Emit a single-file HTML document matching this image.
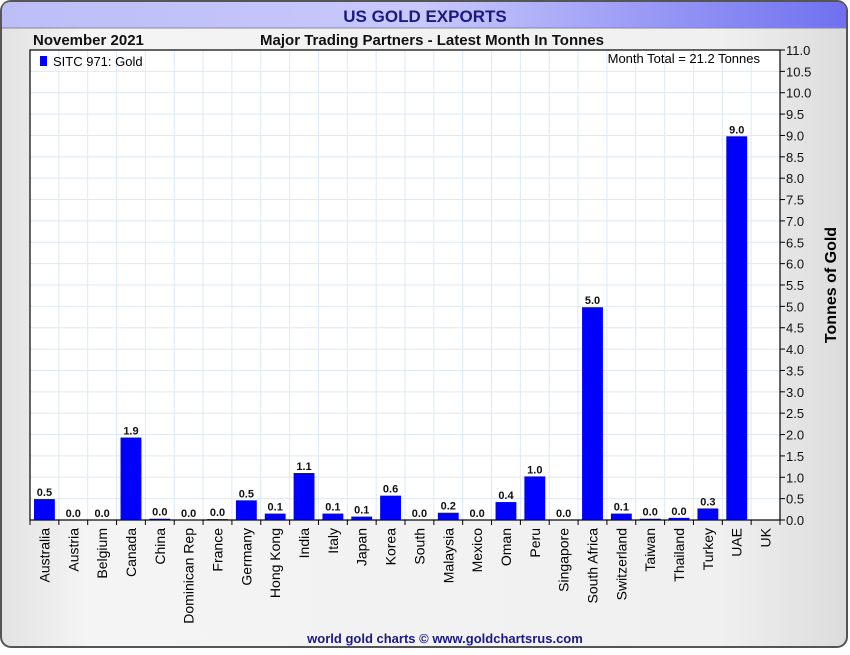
<!DOCTYPE html>
<html><head><meta charset="utf-8"><style>
body{margin:0;width:850px;height:650px;overflow:hidden;background:#fff;font-family:"Liberation Sans",sans-serif}
</style></head><body>
<svg id="c" width="850" height="650" font-family="Liberation Sans, sans-serif">
<defs>
<linearGradient id="bg" x1="0" x2="1"><stop offset="0" stop-color="#e2e2e2"/><stop offset="0.1" stop-color="#f4f4f4"/><stop offset="0.85" stop-color="#f0f0f0"/><stop offset="1" stop-color="#dcdcdc"/></linearGradient>
<linearGradient id="tb" x1="0" x2="1"><stop offset="0" stop-color="#bdbdf8"/><stop offset="0.5" stop-color="#c8c8fc"/><stop offset="1" stop-color="#7070f0"/></linearGradient>
</defs>
<rect x="1" y="1" width="846" height="646" rx="10" fill="url(#bg)" stroke="#555" stroke-width="2"/>
<path d="M2,28 L2,11 Q2,2 11,2 L837,2 Q846,2 846,11 L846,28 Z" fill="url(#tb)"/>
<line x1="2" y1="28" x2="846" y2="28" stroke="#888"/>
<text x="425" y="22" text-anchor="middle" font-size="17" font-weight="bold" fill="#1a1a80">US GOLD EXPORTS</text>
<text x="33" y="45" font-size="15" font-weight="bold" fill="#111">November 2021</text>
<text x="432" y="45" text-anchor="middle" font-size="15" font-weight="bold" fill="#111">Major Trading Partners - Latest Month In Tonnes</text>
<rect x="30" y="50" width="750" height="470" fill="#fff"/>
<g id="grid"></g><g id="bars"></g><g id="xax"></g><g id="yax"></g>
<rect x="30" y="50" width="750" height="470" fill="none" stroke="#000" stroke-width="1.2"/>
<rect x="40" y="56" width="7" height="10" fill="#0000ff"/>
<text x="53" y="66" font-size="13" fill="#000">SITC 971: Gold</text>
<text x="760" y="63" text-anchor="end" font-size="13" fill="#000">Month Total = 21.2 Tonnes</text>
<text transform="translate(836,285) rotate(-90)" text-anchor="middle" font-size="16" font-weight="bold" fill="#000">Tonnes of Gold</text>
<text x="445" y="643" text-anchor="middle" font-size="13" font-weight="bold" fill="#1a1a80">world gold charts © www.goldchartsrus.com</text>
</svg>
<script>
const categories=["Australia","Austria","Belgium","Canada","China","Dominican Rep","France","Germany","Hong Kong","India","Italy","Japan","Korea","South","Malaysia","Mexico","Oman","Peru","Singapore","South Africa","Switzerland","Taiwan","Thailand","Turkey","UAE","UK"];
const values=[0.49,0,0,1.93,0.03,0,0.02,0.46,0.15,1.1,0.15,0.08,0.57,0,0.17,0,0.42,1.02,0,4.98,0.15,0.03,0.05,0.27,8.98,null];
const valueLabels=["0.5","0.0","0.0","1.9","0.0","0.0","0.0","0.5","0.1","1.1","0.1","0.1","0.6","0.0","0.2","0.0","0.4","1.0","0.0","5.0","0.1","0.0","0.0","0.3","9.0",""];
const yTicks=[0,0.5,1,1.5,2,2.5,3,3.5,4,4.5,5,5.5,6,6.5,7,7.5,8,8.5,9,9.5,10,10.5,11];
const NS="http://www.w3.org/2000/svg";
const L=30,R=780,T=50,B=520,YMAX=11;
const slots=categories.length;
const bw=(R-L)/slots;
function x(i){return L+i*bw;}
function y(v){return B-(v/YMAX)*(B-T);}
function mk(tag,a,p){const e=document.createElementNS(NS,tag);for(const k in a)e.setAttribute(k,a[k]);p.appendChild(e);return e;}
const grid=document.getElementById('grid'),bars=document.getElementById('bars'),xax=document.getElementById('xax'),yax=document.getElementById('yax');
yTicks.forEach(t=>{
 const g=mk('line',{x1:L,x2:R,y1:y(t),y2:y(t),stroke:'#dde9f5'},grid);
 
 
 mk('line',{x1:R,x2:R+5,y1:y(t),y2:y(t),stroke:'#000'},yax);
 const tx=mk('text',{x:R+6,y:y(t)+5,'font-size':13,fill:'#111'},yax);
 tx.textContent=t.toFixed(1);
 
 
});
for(let i=0;i<=slots;i++){
 mk('line',{x1:x(i),x2:x(i),y1:T,y2:B,stroke:'#dde9f5'},grid);
 mk('line',{x1:x(i),x2:x(i),y1:B,y2:B+5,stroke:'#000'},xax);
}
categories.forEach((c,i)=>{
 const cx=x(i)+bw/2;
 const v=values[i];
 if(v!==null){
  const r=mk('rect',{x:x(i)+4,width:bw-8,y:y(v),height:Math.max(B-y(v),0),fill:'#0000ff'},bars);
  
  
  const t=mk('text',{x:cx,y:y(v)-3,'text-anchor':'middle','font-size':11,'font-weight':'bold',fill:'#111'},bars);
  t.textContent=valueLabels[i];
  
  
 }
 const lt=mk('text',{transform:`translate(${cx+5},${B+8}) rotate(-90)`,'text-anchor':'end','font-size':14,fill:'#000'},xax);
 lt.textContent=c;
 
 
});
</script>
</body></html>
